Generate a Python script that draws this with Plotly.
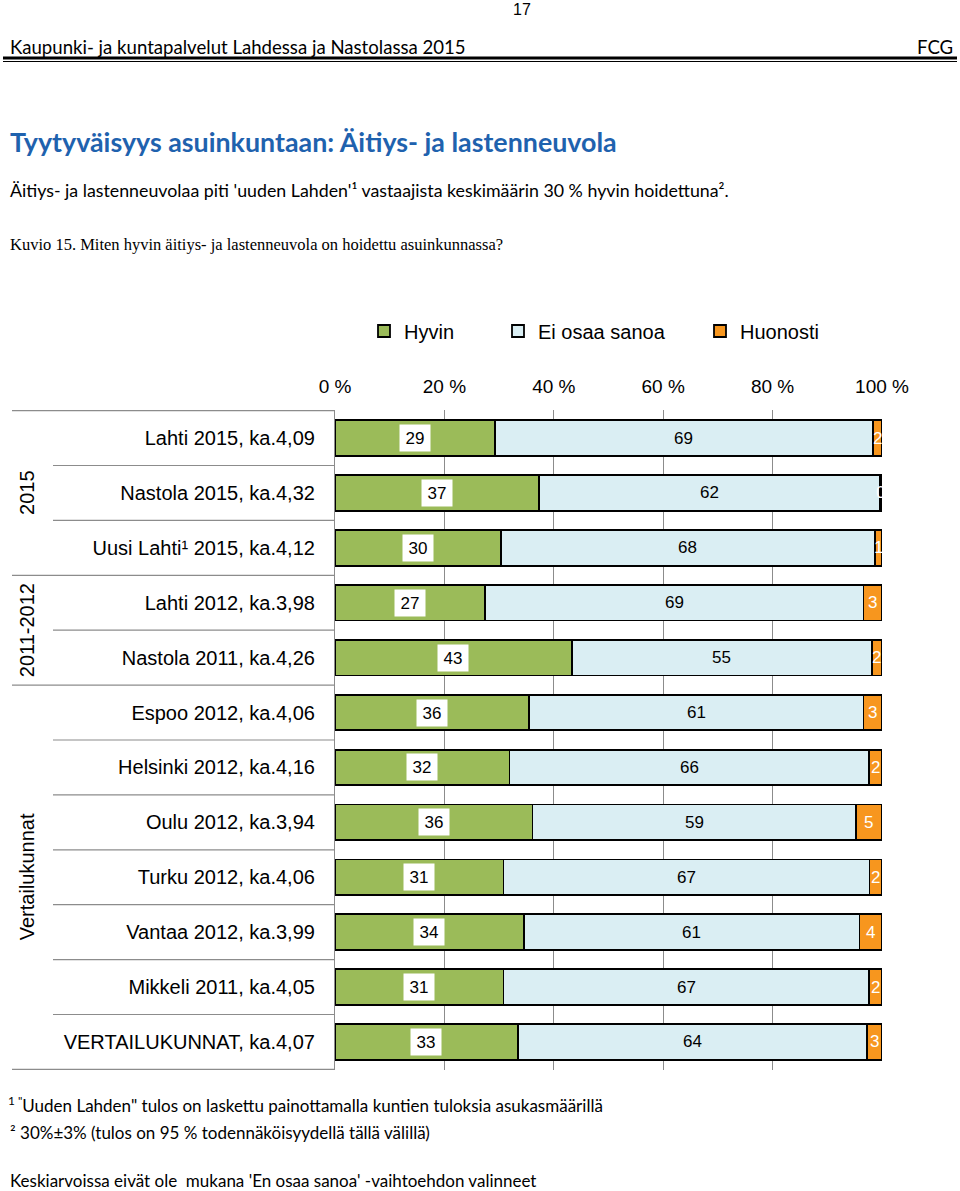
import plotly.graph_objects as go

W, H = 960, 1191

categories = [
    "Lahti 2015, ka.4,09",
    "Nastola 2015, ka.4,32",
    "Uusi Lahti¹ 2015, ka.4,12",
    "Lahti 2012, ka.3,98",
    "Nastola 2011, ka.4,26",
    "Espoo 2012, ka.4,06",
    "Helsinki 2012, ka.4,16",
    "Oulu 2012, ka.3,94",
    "Turku 2012, ka.4,06",
    "Vantaa 2012, ka.3,99",
    "Mikkeli 2011, ka.4,05",
    "VERTAILUKUNNAT, ka.4,07",
]
hyvin = [29.3, 37.3, 30.3, 27.4, 43.3, 35.5, 31.9, 36.1, 30.8, 34.5, 30.8, 33.4]
ei_osaa = [69.0, 62.3, 68.4, 69.2, 54.8, 61.1, 65.7, 59.1, 66.9, 61.4, 66.8, 63.9]
huonosti = [1.7, 0.4, 1.3, 3.4, 1.9, 3.4, 2.4, 4.8, 2.3, 4.1, 2.4, 2.7]

series_names = ["Hyvin", "Ei osaa sanoa", "Huonosti"]
colors = ["#9BBB59", "#DAEEF3", "#F7961E"]

groups = [("2015", 0, 2), ("2011-2012", 3, 4), ("Vertailukunnat", 5, 11)]
x_ticks = [0, 20, 40, 60, 80, 100]


def px(x):
    return x / W


def py(y):
    return 1 - y / H


CHART_FONT = "Liberation Sans, Arial, sans-serif"
DOC_FONT = "Lato, Carlito, Calibri, sans-serif"
SERIF_FONT = "Liberation Serif, Times New Roman, serif"

fig = go.Figure()
legend_ids = ["legend", "legend2", "legend3"]
for name, vals, col, lg in zip(series_names, [hyvin, ei_osaa, huonosti], colors, legend_ids):
    fig.add_trace(go.Bar(
        name=name, x=vals, y=categories, orientation="h",
        marker=dict(color=col, line=dict(color="black", width=1.8)),
        width=0.65, legend=lg, hoverinfo="x+name",
    ))

LBL = 17
annotations = []
for i, cat in enumerate(categories):
    annotations.append(dict(
        x=hyvin[i] / 2, y=cat, xref="x", yref="y", text=f"{round(hyvin[i])}",
        showarrow=False, xanchor="center", yanchor="middle",
        font=dict(family=CHART_FONT, size=LBL, color="black"),
        bgcolor="white", width=24, height=20, borderpad=3))
    annotations.append(dict(
        x=hyvin[i] + ei_osaa[i] / 2, y=cat, xref="x", yref="y", text=f"{round(ei_osaa[i])}",
        showarrow=False, xanchor="center", yanchor="middle",
        font=dict(family=CHART_FONT, size=LBL, color="black")))
    annotations.append(dict(
        x=hyvin[i] + ei_osaa[i] + huonosti[i] / 2, y=cat, xref="x", yref="y",
        text=f"{int(round(huonosti[i]))}", showarrow=False, xanchor="center", yanchor="middle",
        font=dict(family=CHART_FONT, size=LBL, color="white")))

# group labels (rotated)
for gname, a, b in groups:
    annotations.append(dict(
        x=px(27), xref="paper", y=(a + b) / 2, yref="y", text=gname, textangle=-90,
        xanchor="center", yanchor="middle",
        showarrow=False, font=dict(family=CHART_FONT, size=20, color="black")))

# document texts
doc = [
    ("17", 522, 9, 16, CHART_FONT, "black", "center"),
    ("Kaupunki- ja kuntapalvelut Lahdessa ja Nastolassa 2015", 8, 47, 18.6, DOC_FONT, "black", "left"),
    ("FCG", 955, 47, 18.6, DOC_FONT, "black", "right"),
    ("<b>Tyytyväisyys asuinkuntaan: Äitiys- ja lastenneuvola</b>", 8, 142, 26.8, DOC_FONT, "#1F62AE", "left"),
    ("Äitiys- ja lastenneuvolaa piti 'uuden Lahden'¹ vastaajista keskimäärin 30 % hyvin hoidettuna².", 8, 190, 17.8, DOC_FONT, "black", "left"),
    ("Kuvio 15. Miten hyvin äitiys- ja lastenneuvola on hoidettu asuinkunnassa?", 8, 244, 16.5, SERIF_FONT, "black", "left"),
    ("<sup>1 \"</sup>Uuden Lahden\" tulos on laskettu painottamalla kuntien tuloksia asukasmäärillä", 6, 1104, 17, DOC_FONT, "black", "left"),
    ("² 30%±3% (tulos on 95 % todennäköisyydellä tällä välillä)", 8, 1132, 17, DOC_FONT, "black", "left"),
    ("Keskiarvoissa eivät ole  mukana 'En osaa sanoa' -vaihtoehdon valinneet", 8, 1180, 17, DOC_FONT, "black", "left"),
]
for text, x, y, size, fam, col, anchor in doc:
    annotations.append(dict(
        x=px(x), y=py(y), xref="paper", yref="paper", text=text, showarrow=False,
        xanchor=anchor, yanchor="middle", font=dict(family=fam, size=size, color=col)))

shapes = []
# header rules
shapes.append(dict(type="line", xref="paper", yref="paper", x0=px(3), x1=px(957),
                   y0=py(58), y1=py(58), line=dict(color="black", width=3)))
shapes.append(dict(type="line", xref="paper", yref="paper", x0=px(3), x1=px(957),
                   y0=py(61.5), y1=py(61.5), line=dict(color="black", width=1)))
# category separators
group_bounds = set()
for gname, a, b in groups:
    group_bounds.add(a - 0.5)
    group_bounds.add(b + 0.5)
for k in range(len(categories) + 1):
    pos = k - 0.5
    x0 = px(12) if pos in group_bounds else px(53)
    shapes.append(dict(type="line", xref="paper", yref="y", x0=x0, x1=px(335),
                       y0=pos, y1=pos, line=dict(color="#8C8C8C", width=1.2)))

plot_top, plot_bot = 410, 1070
leg_common = dict(yanchor="middle", xanchor="left", orientation="h",
                  font=dict(family=CHART_FONT, size=20, color="black"),
                  bgcolor="rgba(0,0,0,0)")
fig.update_layout(
    width=W, height=H, margin=dict(l=0, r=0, t=0, b=0, autoexpand=False),
    paper_bgcolor="white", plot_bgcolor="white",
    barmode="stack", bargap=0.35,
    font=dict(family=CHART_FONT, size=20, color="black"),
    xaxis=dict(domain=[px(335), px(882)], range=[0, 100], side="top",
               tickvals=x_ticks, ticktext=[f"{v} %" for v in x_ticks],
               showgrid=True, gridcolor="#8C8C8C", gridwidth=1.2,
               zeroline=False, showline=False, ticks="", automargin=False,
               tickfont=dict(family=CHART_FONT, size=19, color="black"),
               ticklabelstandoff=12, fixedrange=True),
    yaxis=dict(domain=[py(plot_bot), py(plot_top)], type="category",
               categoryorder="array", categoryarray=categories,
               autorange="reversed", showgrid=False, zeroline=False, automargin=False,
               showline=True, linecolor="#8C8C8C", linewidth=1.2, ticks="",
               tickfont=dict(family=CHART_FONT, size=20, color="black"),
               ticklabelstandoff=15, fixedrange=True),
    annotations=annotations, shapes=shapes,
    showlegend=True,
    legend=dict(x=px(364), y=py(331), **leg_common),
    legend2=dict(x=px(498), y=py(331), **leg_common),
    legend3=dict(x=px(700), y=py(331), **leg_common),
)

# remove the default 8px page margin so the 960x1191 figure fills the window
fig.write_html("out.html", config={"displayModeBar": False},
               post_script="document.body.style.margin='0';")
